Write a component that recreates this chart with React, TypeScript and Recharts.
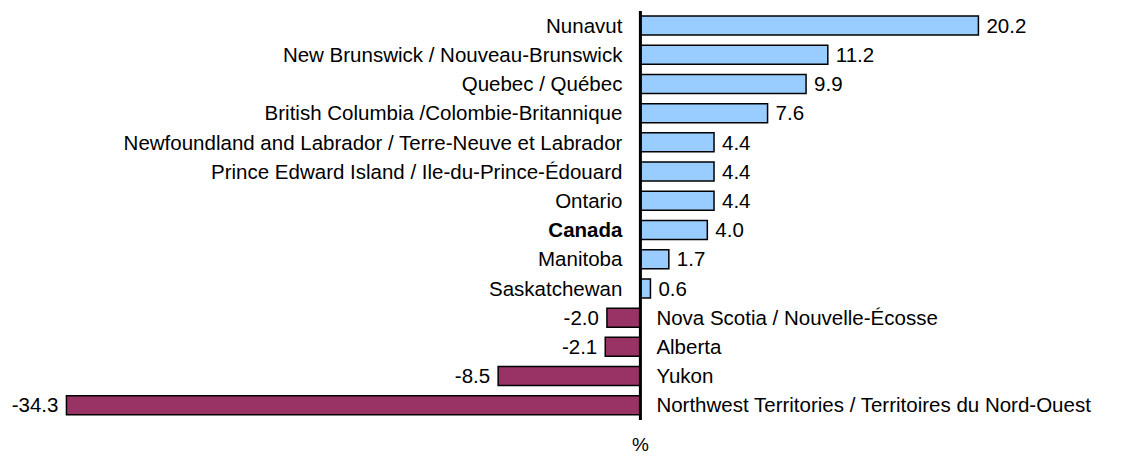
import React from 'react'
import { BarChart, Bar, XAxis, YAxis, Cell, LabelList, ReferenceLine } from 'recharts'

const categories = [
  'Nunavut',
  'New Brunswick / Nouveau-Brunswick',
  'Quebec / Québec',
  'British Columbia /Colombie-Britannique',
  'Newfoundland and Labrador / Terre-Neuve et Labrador',
  'Prince Edward Island / Ile-du-Prince-Édouard',
  'Ontario',
  'Canada',
  'Manitoba',
  'Saskatchewan',
  'Nova Scotia / Nouvelle-Écosse',
  'Alberta',
  'Yukon',
  'Northwest Territories / Territoires du Nord-Ouest'
]
const changes = [20.2, 11.2, 9.9, 7.6, 4.4, 4.4, 4.4, 4.0, 1.7, 0.6, -2.0, -2.1, -8.5, -34.3]
const boldCategories = ['Canada']

const POS = '#99ccff'
const NEG = '#993366'
const FONT = '"Liberation Sans", Arial, sans-serif'
const FS = 20.5

const data = categories.map((name, i) => ({ name, value: changes[i] }))

// category name sits next to the zero line, value at the far end of the bar
const BarLabels = (props: any) => {
  const { x, y, width, height, index } = props
  const v = data[index].value
  const left = Math.min(x, x + width)
  const right = Math.max(x, x + width)
  const zero = v >= 0 ? left : right
  const end = v >= 0 ? right : left
  const cy = y + height / 2
  const name = data[index].name
  const bold = boldCategories.includes(name)
  return (
    <g style={{ fontFamily: FONT, fontSize: FS }}>
      <text
        x={v >= 0 ? zero - 18 : zero + 16}
        y={cy}
        dy="0.35em"
        textAnchor={v >= 0 ? 'end' : 'start'}
        fill="#000"
        fontWeight={bold ? 'bold' : 'normal'}
      >
        {name}
      </text>
      <text x={v >= 0 ? end + 8 : end - 8} y={cy} dy="0.35em" textAnchor={v >= 0 ? 'start' : 'end'} fill="#000">
        {v.toFixed(1)}
      </text>
    </g>
  )
}

export default function App() {
  return (
    <div style={{ position: 'absolute', left: 0, top: 0, background: '#fff' }}>
      <BarChart
        width={1131}
        height={458}
        data={data}
        layout="vertical"
        margin={{ top: 11, right: 89, bottom: 38, left: 38 }}
        style={{ fontFamily: FONT }}
      >
        <XAxis type="number" domain={[-36, 24]} hide />
        <YAxis type="category" dataKey="name" hide />
        <Bar dataKey="value" barSize={19} stroke="#000" strokeWidth={1.5} isAnimationActive={false}>
          {data.map((d, i) => (
            <Cell key={i} fill={d.value >= 0 ? POS : NEG} />
          ))}
          <LabelList dataKey="value" content={BarLabels} />
        </Bar>
        <ReferenceLine
          x={0}
          stroke="#000"
          strokeWidth={3}
          label={{ value: '%', position: 'bottom', offset: 18, fill: '#000', fontSize: 19, fontFamily: FONT }}
        />
      </BarChart>
    </div>
  )
}
